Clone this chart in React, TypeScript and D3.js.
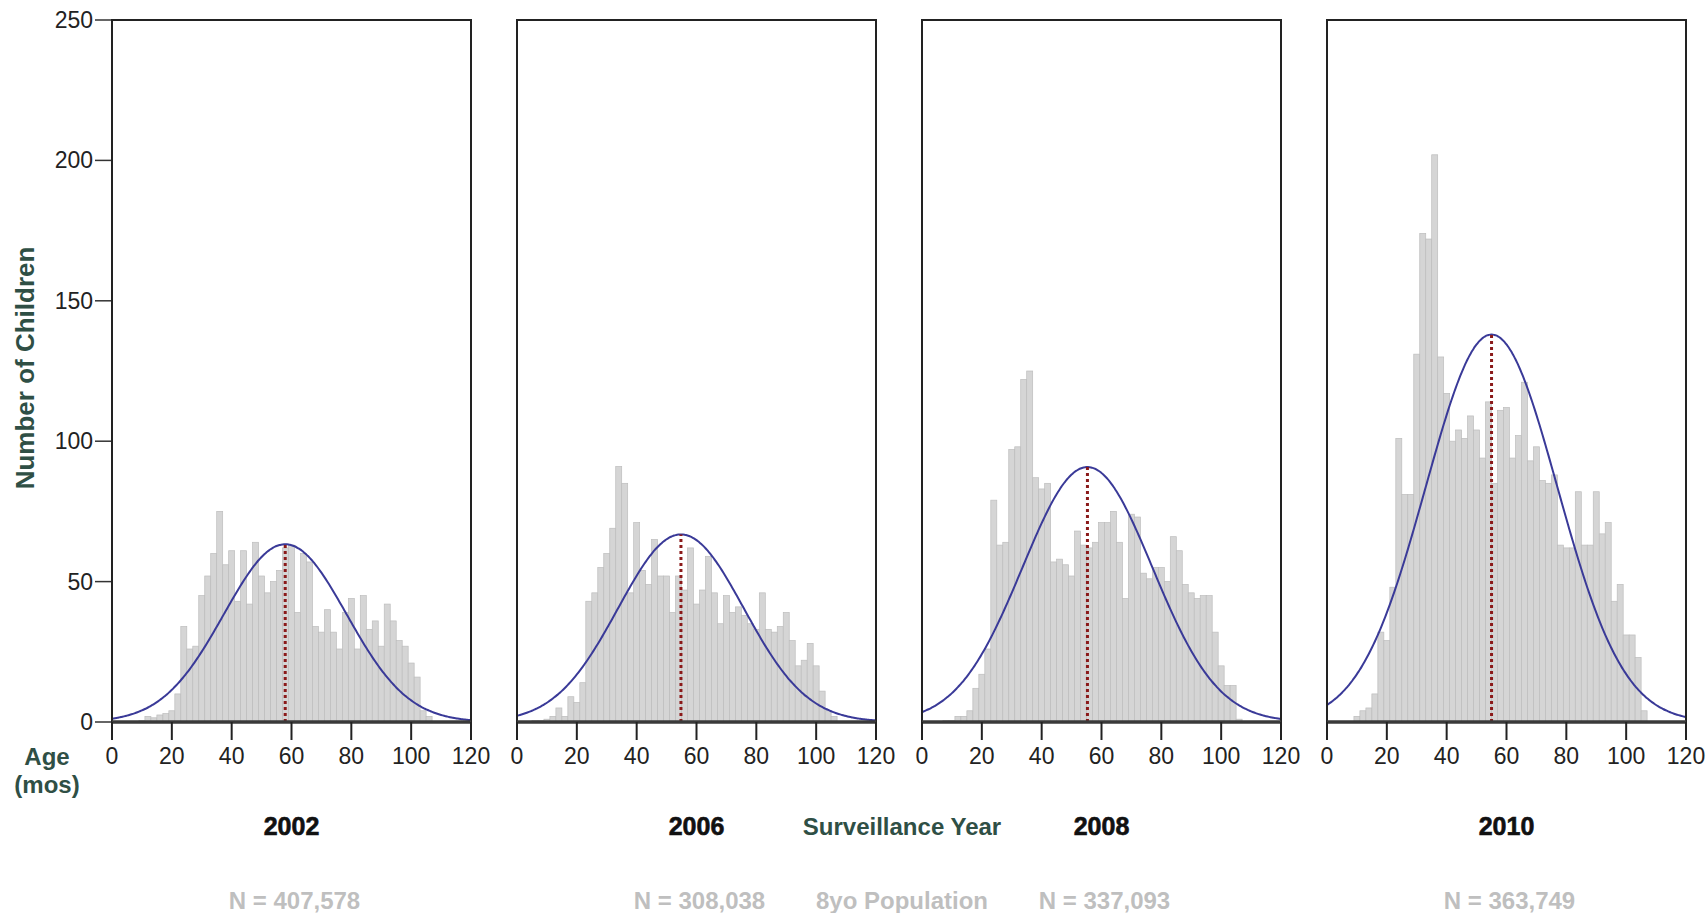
import React, { useEffect, useRef } from 'react';
import * as d3 from 'd3';

// bin centres in months, each bar is 2 months wide
const BIN_CENTERS = [
  6, 8, 10, 12, 14, 16, 18, 20, 22, 24, 26, 28, 30, 32, 34, 36, 38, 40, 42, 44,
  46, 48, 50, 52, 54, 56, 58, 60, 62, 64, 66, 68, 70, 72, 74, 76, 78, 80, 82, 84,
  86, 88, 90, 92, 94, 96, 98, 100, 102, 104, 106, 108,
];

const COUNTS_2002 = [
  0, 0, 0.5, 2, 1.5, 2.5, 3, 4, 10, 34, 26, 27, 45, 52, 60, 75, 56, 61, 43, 61,
  42, 64, 52, 46, 50, 54, 62, 63, 39, 60, 57, 34, 32, 40, 32, 26, 39, 44, 26, 45,
  33, 36, 27, 42, 36, 29, 27, 21, 16, 4, 2, 0,
];
const COUNTS_2006 = [
  0.5, 0.5, 1, 2, 5, 2, 9, 7, 14, 43, 46, 55, 60, 69, 91, 85, 46, 71, 54, 49,
  65, 52, 52, 39, 52, 47, 62, 42, 47, 59, 46, 35, 45, 39, 41, 38, 35, 33, 46, 33,
  32, 34, 39, 29, 20, 22, 28, 20, 11, 4, 2, 0,
];
const COUNTS_2008 = [
  0, 0.5, 0.5, 2, 2, 4, 12, 17, 26, 79, 63, 64, 97, 98, 122, 125, 87, 83, 85, 57,
  58, 56, 52, 68, 63, 62, 64, 71, 71, 75, 64, 44, 74, 73, 53, 51, 55, 55, 50, 66,
  61, 49, 46, 44, 45, 45, 32, 20, 13, 13, 1, 0,
];
const COUNTS_2010 = [
  0, 0, 2, 4, 5, 10, 32, 29, 48, 101, 81, 81, 131, 174, 172, 202, 130, 117, 100, 104,
  101, 109, 104, 94, 114, 85, 111, 112, 94, 102, 121, 93, 98, 86, 85, 88, 63, 62, 62, 82,
  63, 63, 82, 67, 71, 43, 49, 31, 31, 23, 4, 0,
];

const YEARS = ['2002', '2006', '2008', '2010'];
const N_LABELS = ['N = 407,578', 'N = 308,038', 'N = 337,093', 'N = 363,749'];
const COUNTS = [COUNTS_2002, COUNTS_2006, COUNTS_2008, COUNTS_2010];

// fitted normal curve: mean, sd and peak height
const CURVE_MEANS = [57.9, 54.8, 55.3, 55.0];
const CURVE_SDS = [20.5, 21, 21.7, 22];
const CURVE_PEAKS = [63.3, 66.8, 90.8, 138];

const X_TICKS = [0, 20, 40, 60, 80, 100, 120];
const Y_TICKS = [0, 50, 100, 150, 200, 250];

const FONT = '"Liberation Sans", Arial, Helvetica, sans-serif';
const GREEN = '#2f4f45';

const App = () => {
  const ref = useRef(null);

  useEffect(() => {
    d3.select(ref.current).selectAll('*').remove();

    const width = 1708;
    const height = 913;
    const top = 20;
    const bottom = 722;
    const panelW = 359;
    const panelStep = 405;
    const firstLeft = 112;

    const svg = d3
      .select(ref.current)
      .append('svg')
      .attr('width', width)
      .attr('height', height)
      .style('position', 'absolute')
      .style('left', '0px')
      .style('top', '0px')
      .style('font-family', FONT);

    svg.append('rect').attr('width', width).attr('height', height).attr('fill', '#fff');

    const y = d3.scaleLinear().domain([0, 250]).range([bottom, top]);

    // y axis (left of first panel)
    Y_TICKS.forEach((t) => {
      svg
        .append('line')
        .attr('x1', firstLeft - 17)
        .attr('x2', firstLeft)
        .attr('y1', y(t))
        .attr('y2', y(t))
        .attr('stroke', '#333')
        .attr('stroke-width', 1.5);
      svg
        .append('text')
        .attr('x', firstLeft - 19)
        .attr('y', y(t) + 8)
        .attr('text-anchor', 'end')
        .attr('font-size', 23)
        .attr('fill', '#222')
        .text(t);
    });

    svg
      .append('text')
      .attr('transform', `translate(34, 368) rotate(-90)`)
      .attr('text-anchor', 'middle')
      .attr('font-size', 26)
      .attr('font-weight', 'bold')
      .attr('fill', GREEN)
      .text('Number of Children');

    COUNTS.forEach((counts, p) => {
      const left = firstLeft + p * panelStep;
      const x = d3.scaleLinear().domain([0, 120]).range([left, left + panelW]);
      const g = svg.append('g');

      // bars
      g.selectAll('rect.bar')
        .data(BIN_CENTERS.map((c, i) => ({ c, v: counts[i] })).filter((d) => d.v > 0))
        .join('rect')
        .attr('class', 'bar')
        .attr('x', (d) => x(d.c - 1))
        .attr('width', (d) => x(d.c + 1) - x(d.c - 1))
        .attr('y', (d) => y(d.v))
        .attr('height', (d) => y(0) - y(d.v))
        .attr('fill', '#d5d5d5')
        .attr('stroke', '#bdbdbd')
        .attr('stroke-width', 0.7);

      // normal curve
      const mean = CURVE_MEANS[p];
      const sd = CURVE_SDS[p];
      const peak = CURVE_PEAKS[p];
      const pts = d3.range(0, 120.25, 0.5).map((m) => [m, peak * Math.exp(-((m - mean) ** 2) / (2 * sd * sd))]);
      const line = d3
        .line()
        .x((d) => x(d[0]))
        .y((d) => y(d[1]))
        .curve(d3.curveBasis);
      g.append('path')
        .attr('d', line(pts))
        .attr('fill', 'none')
        .attr('stroke', '#3a3a98')
        .attr('stroke-width', 2);

      // mean line
      g.append('line')
        .attr('x1', x(mean))
        .attr('x2', x(mean))
        .attr('y1', y(0))
        .attr('y2', y(peak))
        .attr('stroke', '#8b1a1a')
        .attr('stroke-width', 3)
        .attr('stroke-dasharray', '3,3');

      // frame
      g.append('rect')
        .attr('x', left)
        .attr('y', top)
        .attr('width', panelW)
        .attr('height', bottom - top)
        .attr('fill', 'none')
        .attr('stroke', '#222')
        .attr('stroke-width', 2);

      // bottom axis
      g.append('line')
        .attr('x1', left)
        .attr('x2', left + panelW)
        .attr('y1', bottom)
        .attr('y2', bottom)
        .attr('stroke', '#3a3a3a')
        .attr('stroke-width', 3.5);

      X_TICKS.forEach((t) => {
        g.append('line')
          .attr('x1', x(t))
          .attr('x2', x(t))
          .attr('y1', bottom)
          .attr('y2', bottom + 18)
          .attr('stroke', '#222')
          .attr('stroke-width', 2);
        g.append('text')
          .attr('x', x(t))
          .attr('y', bottom + 42)
          .attr('text-anchor', 'middle')
          .attr('font-size', 23)
          .attr('fill', '#222')
          .text(t);
      });

      g.append('text')
        .attr('x', left + panelW / 2)
        .attr('y', 835)
        .attr('text-anchor', 'middle')
        .attr('font-size', 25)
        .attr('font-weight', 'bold')
        .attr('fill', '#111')
        .attr('stroke', '#111')
        .attr('stroke-width', 0.6)
        .text(YEARS[p]);

      g.append('text')
        .attr('x', left + panelW / 2 + 3)
        .attr('y', 909)
        .attr('text-anchor', 'middle')
        .attr('font-size', 24)
        .attr('font-weight', 'bold')
        .attr('fill', '#bfbfbf')
        .text(N_LABELS[p]);
    });

    svg
      .append('text')
      .attr('x', 47)
      .attr('y', 765)
      .attr('text-anchor', 'middle')
      .attr('font-size', 24)
      .attr('font-weight', 'bold')
      .attr('fill', GREEN)
      .text('Age');
    svg
      .append('text')
      .attr('x', 47)
      .attr('y', 793)
      .attr('text-anchor', 'middle')
      .attr('font-size', 24)
      .attr('font-weight', 'bold')
      .attr('fill', GREEN)
      .text('(mos)');

    svg
      .append('text')
      .attr('x', 902)
      .attr('y', 835)
      .attr('text-anchor', 'middle')
      .attr('font-size', 24)
      .attr('font-weight', 'bold')
      .attr('fill', GREEN)
      .text('Surveillance Year');

    svg
      .append('text')
      .attr('x', 902)
      .attr('y', 909)
      .attr('text-anchor', 'middle')
      .attr('font-size', 24)
      .attr('font-weight', 'bold')
      .attr('fill', '#bfbfbf')
      .text('8yo Population');
  }, []);

  return <div ref={ref} />;
};

export default App;
